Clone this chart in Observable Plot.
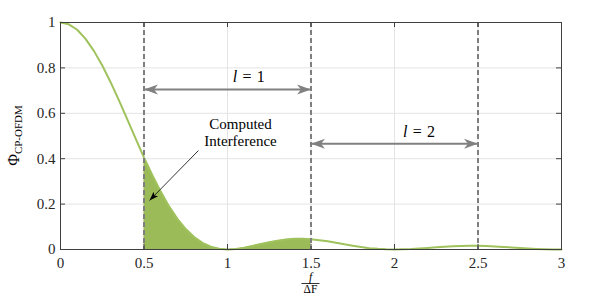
<!DOCTYPE html>
<html><head><meta charset="utf-8">
<script src="https://cdn.jsdelivr.net/npm/d3@7"></script>
<script src="https://cdn.jsdelivr.net/npm/@observablehq/plot@0.6"></script>
<style>body{margin:0;background:#fff} svg{display:block}</style>
</head><body><div id="chart"></div>
<script>
// normalised frequency f/ΔF and Φ_CP-OFDM
const fValues = [0,0.05,0.1,0.15,0.2,0.25,0.3,0.35,0.4,0.45,0.5,0.55,0.6,0.65,0.7,0.75,0.8,0.85,0.9,0.95,
  1,1.05,1.1,1.15,1.2,1.25,1.3,1.35,1.4,1.45,1.5,1.55,1.6,1.65,1.7,1.75,1.8,1.85,1.9,1.95,
  2,2.05,2.1,2.15,2.2,2.25,2.3,2.35,2.4,2.45,2.5,2.55,2.6,2.65,2.7,2.75,2.8,2.85,2.9,2.95,3];
const phiValues = [1,0.992,0.968,0.928,0.875,0.811,0.737,0.657,0.573,0.488,0.405,0.327,0.255,0.190,0.135,0.090,0.055,0.029,0.012,0.003,
  0,0.002,0.008,0.016,0.024,0.032,0.039,0.044,0.047,0.047,0.045,0.041,0.036,0.030,0.023,0.017,0.011,0.006,0.003,0.001,
  0,0.001,0.002,0.0045,0.007,0.010,0.0125,0.0146,0.0159,0.0165,0.0162,0.0152,0.0136,0.0115,0.0091,0.0067,0.0045,0.0026,0.0012,0.0003,0];
const xTicks = [0,0.5,1,1.5,2,2.5,3];
const yTicks = [0,0.2,0.4,0.6,0.8,1];
const boundaries = [0.5,1.5,2.5];
const shadeFrom = 0.5, shadeTo = 1.5;
const spanFrom = [0.5,1.5];
const spanTo = [1.5,2.5];
const spanLabels = ["1","2"];
const spanY = [0.705,0.466];
const spanLabelX = [1.13,2.15];
const spanLabelY = [0.736,0.493];
const noteLines = ["Computed","Interference"];
const noteX = 1.078;
const noteY = [0.529,0.454];
const noteFrom = [0.826,0.436];
const noteTo = [0.533,0.216];

const W = 598, H = 295, mL = 60, mR = 37, mT = 22, mB = 46;
const data = fValues.map((f,i)=>({f, phi: phiValues[i]}));
const shade = data.filter(d=>d.f>=shadeFrom && d.f<=shadeTo);
const spans = spanFrom.map((a,i)=>({from:a,to:spanTo[i],y:spanY[i]}));

const bigHead = {draw(c){c.moveTo(0,0);c.lineTo(5,14);c.lineTo(0,10);c.lineTo(-5,14);c.closePath();}};
const smallHead = {draw(c){c.moveTo(0,0);c.lineTo(3.2,9);c.lineTo(0,7);c.lineTo(-3.2,9);c.closePath();}};
const xs = d3.scaleLinear([0,3],[mL,W-mR]), ys = d3.scaleLinear([0,1],[H-mB,mT]);
const ang = Math.atan2(xs(noteTo[0])-xs(noteFrom[0]), -(ys(noteTo[1])-ys(noteFrom[1])))*180/Math.PI;

const font = "'Liberation Serif', 'Times New Roman', serif";
const plot = Plot.plot({
  width: W, height: H, marginLeft: mL, marginRight: mR, marginTop: mT, marginBottom: mB,
  style: {fontFamily: font, fontSize: "15px", background: "#fff"},
  x: {domain: [0,3]}, y: {domain: [0,1]},
  marks: [
    Plot.gridX(xTicks, {stroke: "#e4e4e4", strokeOpacity: 1}),
    Plot.gridY(yTicks, {stroke: "#e4e4e4", strokeOpacity: 1}),
    Plot.areaY(shade, {x: "f", y: "phi", fill: "#9bbb59"}),
    Plot.line(data, {x: "f", y: "phi", stroke: "#9fc25c", strokeWidth: 2}),
    Plot.ruleX(boundaries, {stroke: "#7f7f7f", strokeWidth: 2, strokeDasharray: "5,3"}),
    Plot.link(spans, {x1: "from", x2: "to", y1: "y", y2: "y", stroke: "#808080", strokeWidth: 2}),
    Plot.dot(spans, {x: "from", y: "y", symbol: bigHead, rotate: -90, fill: "#808080", stroke: "none"}),
    Plot.dot(spans, {x: "to", y: "y", symbol: bigHead, rotate: 90, fill: "#808080", stroke: "none"}),
    Plot.link([0], {x1: noteFrom[0], y1: noteFrom[1], x2: noteTo[0], y2: noteTo[1], stroke: "#000", strokeWidth: 0.8}),
    Plot.dot([0], {x: noteTo[0], y: noteTo[1], symbol: smallHead, rotate: ang, fill: "#000", stroke: "none"}),
    Plot.text(noteLines, {x: noteX, y: (d,i)=>noteY[i], text: d=>d, lineAnchor: "bottom", fontSize: 15, fontFamily: font, fill: "#000"}),
    Plot.ruleX(xTicks, {y1: 0, y2: 0, insetTop: -5, stroke: "#404040"}),
    Plot.ruleX(xTicks, {y1: 1, y2: 1, insetBottom: -5, stroke: "#404040"}),
    Plot.ruleY(yTicks, {x1: 0, x2: 0, insetRight: -5, stroke: "#404040"}),
    Plot.ruleY(yTicks, {x1: 3, x2: 3, insetLeft: -5, stroke: "#404040"}),
    Plot.frame({stroke: "#404040"}),
    Plot.axisX({ticks: xTicks, tickSize: 0, tickPadding: 8, label: null, tickFormat: d=>String(d), fill: "#262626", fontSize: 15, fontFamily: font}),
    Plot.axisY({ticks: yTicks, tickSize: 0, tickPadding: 5, label: null, tickFormat: d=>String(d), fill: "#262626", fontSize: 15, fontFamily: font})
  ]
});
document.getElementById("chart").appendChild(plot);

const svg = d3.select(plot);
const sx = plot.scale("x"), sy = plot.scale("y");
spanLabels.forEach((lab,i)=>{
  const t = svg.append("text").attr("x", sx.apply(spanLabelX[i])).attr("y", sy.apply(spanLabelY[i]))
    .attr("text-anchor","middle").attr("font-size",16).attr("fill","#000").style("font-family",font);
  t.append("tspan").attr("font-style","italic").text("l");
  t.append("tspan").text("\u2004=\u2004" + lab);
});
// y-axis label Φ_CP-OFDM
const yl = svg.append("text").attr("transform", `translate(19,${(mT + H - mB)/2}) rotate(-90)`)
  .attr("text-anchor","middle").style("font-family",font).attr("fill","#000");
yl.append("tspan").attr("font-size",16).text("Φ");
yl.append("tspan").attr("font-size",11).attr("dy",3).text("CP-OFDM");
// x-axis label f/ΔF
const cx = sx.apply(1.5);
svg.append("text").attr("x",cx).attr("y",280.5).attr("text-anchor","middle").style("font-family",font)
  .attr("font-size",11.5).attr("font-style","italic").attr("fill","#000").text("f");
svg.append("line").attr("x1",cx-9).attr("x2",cx+9).attr("y1",283.5).attr("y2",283.5).attr("stroke","#000").attr("stroke-width",0.8);
svg.append("text").attr("x",cx).attr("y",292.5).attr("text-anchor","middle").style("font-family",font)
  .attr("font-size",11.5).attr("fill","#000").text("ΔF");
</script></body></html>
